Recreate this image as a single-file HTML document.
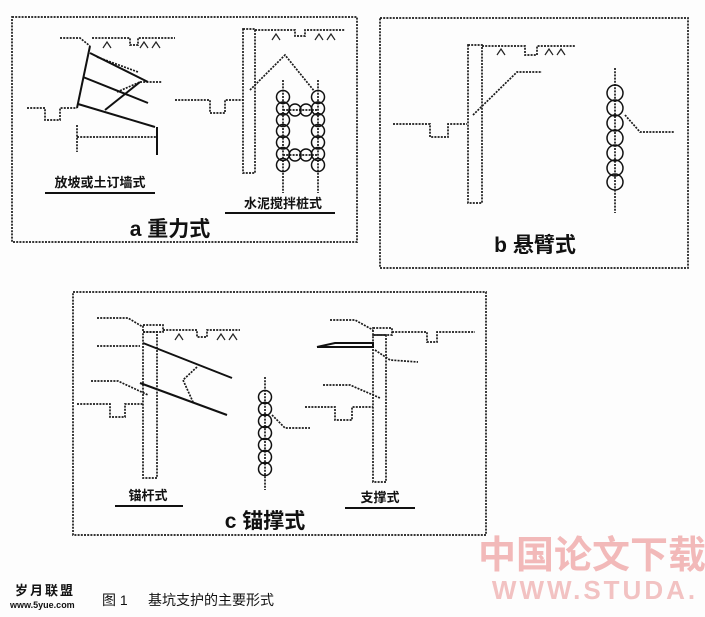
<!DOCTYPE html>
<html><head><meta charset="utf-8"><style>
html,body{margin:0;padding:0;background:#fff;}
svg{display:block;}
text{font-family:"Liberation Sans","Noto Sans CJK SC",sans-serif;fill:#111;}
</style></head><body>
<svg width="705" height="617" viewBox="0 0 705 617" xmlns="http://www.w3.org/2000/svg">
<rect width="705" height="617" fill="#fdfdfd"/>
<g fill="none" stroke="#1a1a1a" stroke-width="1.7" stroke-dasharray="2 1.2">
<rect x="12" y="17" width="345" height="225"/>
<rect x="380" y="18" width="308" height="250"/>
<rect x="73" y="292" width="413" height="243"/>
<polyline points="60,38 80,38 90,46"/>
<polyline points="92,38 130,38 130,45 138,45 138,38 175,38"/>
<line x1="97" y1="57" x2="138" y2="72"/>
<line x1="117" y1="92" x2="140" y2="82"/>
<line x1="140" y1="82" x2="162" y2="82"/>
<polyline points="27,108 45,108 45,120 60,120 60,108 77,108"/>
<line x1="77" y1="125" x2="77" y2="152"/>
<line x1="77" y1="137" x2="157" y2="137"/>
<rect x="243" y="29" width="12" height="144"/>
<polyline points="255,30 295,30 295,36 305,36 305,30 345,30"/>
<polyline points="175,100 210,100 210,113 225,113 225,100 243,100"/>
<polyline points="250,90 285,55 315,92"/>
<line x1="283" y1="80" x2="283" y2="193"/>
<line x1="318" y1="80" x2="318" y2="193"/>
<line x1="283" y1="110" x2="318" y2="110"/>
<line x1="283" y1="155" x2="318" y2="155"/>
<rect x="468" y="45" width="14" height="158"/>
<polyline points="482,46 525,46 525,55 537,55 537,46 575,46"/>
<polyline points="393,124 430,124 430,137 448,137 448,124 467,124"/>
<polyline points="473,115 517,72 542,72"/>
<line x1="615" y1="68" x2="615" y2="213"/>
<polyline points="625,115 640,132 674,132"/>
<rect x="143" y="332" width="14" height="146"/>
<rect x="143" y="325" width="20" height="7"/>
<polyline points="97,318 128,318 143,327"/>
<polyline points="163,330 197,330 197,337 207,337 207,330 240,330"/>
<line x1="97" y1="346" x2="140" y2="346"/>
<polyline points="91,381 118,381 148,395"/>
<polyline points="77,404 110,404 110,417 125,417 125,404 143,404"/>
<polyline points="197,367 183,380 193,402"/>
<line x1="265" y1="377" x2="265" y2="490"/>
<polyline points="272,415 285,428 310,428"/>
<rect x="373" y="335" width="13" height="147"/>
<rect x="373" y="328" width="19" height="7"/>
<polyline points="330,320 355,320 373,330"/>
<polyline points="392,332 427,332 427,342 437,342 437,332 475,332"/>
<polyline points="375,350 390,360 418,362"/>
<polyline points="323,385 350,385 380,398"/>
<polyline points="305,407 335,407 335,420 352,420 352,407 373,407"/>
</g>
<g fill="none" stroke="#111" stroke-width="2">
<line x1="90" y1="46" x2="77" y2="108"/>
<line x1="90" y1="53" x2="148" y2="82"/>
<line x1="83" y1="77" x2="148" y2="103"/>
<line x1="78" y1="104" x2="155" y2="127"/>
<line x1="105" y1="110" x2="140" y2="82"/>
<line x1="157" y1="127" x2="157" y2="155"/>
<line x1="143" y1="343" x2="232" y2="378"/>
<line x1="140" y1="383" x2="227" y2="415"/>
<polyline points="317,347 373,347 373,343 335,343 317,347"/>
<line x1="45" y1="193" x2="155" y2="193"/>
<line x1="225" y1="213" x2="335" y2="213"/>
<line x1="115" y1="506" x2="183" y2="506"/>
<line x1="345" y1="508" x2="415" y2="508"/>
</g>
<g fill="none" stroke="#111" stroke-width="1.5">
<g id="colA">
<circle cx="283" cy="97" r="6.5"/><circle cx="283" cy="108.5" r="6.5"/><circle cx="283" cy="120" r="6.5"/><circle cx="283" cy="131" r="6.5"/><circle cx="283" cy="142.5" r="6.5"/><circle cx="283" cy="154" r="6.5"/><circle cx="283" cy="165" r="6.5"/>
</g>
<use href="#colA" x="35"/>
<circle cx="295" cy="110" r="6"/><circle cx="306" cy="110" r="6"/>
<circle cx="295" cy="155" r="6"/><circle cx="306" cy="155" r="6"/>
<circle cx="615" cy="93" r="8"/><circle cx="615" cy="108" r="8"/><circle cx="615" cy="123" r="8"/><circle cx="615" cy="138" r="8"/><circle cx="615" cy="153" r="8"/><circle cx="615" cy="168" r="8"/><circle cx="615" cy="182" r="8"/>
<circle cx="265" cy="397" r="6.5"/><circle cx="265" cy="409" r="6.5"/><circle cx="265" cy="421" r="6.5"/><circle cx="265" cy="433" r="6.5"/><circle cx="265" cy="445" r="6.5"/><circle cx="265" cy="457" r="6.5"/><circle cx="265" cy="469" r="6.5"/>
</g>
<g stroke="#222" stroke-width="1.2" fill="none">
<path d="M103,48 l4,-6 l4,6"/>
<path d="M140,48 l4,-6 l4,6 M152,48 l4,-6 l4,6"/>
<path d="M272,40 l4,-6 l4,6 M315,40 l4,-6 l4,6 M327,40 l4,-6 l4,6"/>
<path d="M497,55 l4,-6 l4,6 M545,55 l4,-6 l4,6 M557,55 l4,-6 l4,6"/>
<path d="M175,340 l4,-6 l4,6 M217,340 l4,-6 l4,6 M229,340 l4,-6 l4,6"/>
</g>
<g font-weight="bold" font-size="13">
<text x="100" y="187" text-anchor="middle">放坡或土订墙式</text>
<text x="283" y="208" text-anchor="middle">水泥搅拌桩式</text>
<text x="148" y="500" text-anchor="middle">锚杆式</text>
<text x="380" y="502" text-anchor="middle">支撑式</text>
</g>
<g font-size="21" font-weight="bold">
<text x="170" y="236" text-anchor="middle">a 重力式</text>
<text x="535" y="252" text-anchor="middle">b 悬臂式</text>
<text x="265" y="528" text-anchor="middle">c 锚撑式</text>
</g>
<text x="592" y="568" text-anchor="middle" font-size="38" font-weight="bold" style="fill:#f2b9b9">中国论文下载</text>
<text x="595" y="599" text-anchor="middle" font-size="26" font-weight="bold" letter-spacing="3" style="fill:#f2c2c2">WWW.STUDA.</text>
<text x="15" y="595" font-size="13" font-weight="bold" letter-spacing="2">岁月联盟</text>
<text x="10" y="608" font-size="9" font-weight="bold">www.5yue.com</text>
<text x="102" y="605" font-size="14">图 1</text>
<text x="148" y="605" font-size="14">基坑支护的主要形式</text>
</svg>
</body></html>
